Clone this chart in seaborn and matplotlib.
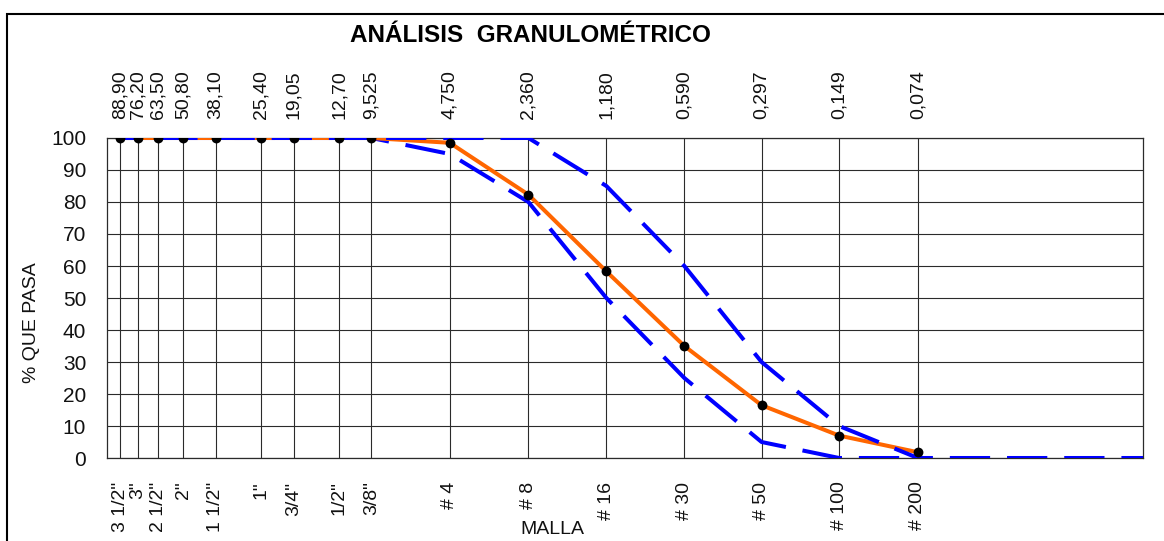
import matplotlib
matplotlib.use("Agg")
import matplotlib.pyplot as plt
from matplotlib.patches import Rectangle
from matplotlib.ticker import NullLocator, FixedLocator, FixedFormatter
import seaborn as sns
import pandas as pd

# ---- data ----
sieve_sizes = [88.90, 76.20, 63.50, 50.80, 38.10, 25.40, 19.05, 12.70, 9.525,
               4.750, 2.360, 1.180, 0.590, 0.297, 0.149, 0.074]
size_labels = ["88,90", "76,20", "63,50", "50,80", "38,10", "25,40", "19,05",
               "12,70", "9,525", "4,750", "2,360", "1,180", "0,590", "0,297",
               "0,149", "0,074"]
mesh_labels = ['3 1/2"', '3"', '2 1/2"', '2"', '1 1/2"', '1"', '3/4"', '1/2"',
               '3/8"', '# 4', '# 8', '# 16', '# 30', '# 50', '# 100', '# 200']
percent_passing = [100, 100, 100, 100, 100, 100, 100, 100, 100,
                   98.5, 82.3, 58.3, 35, 16.5, 7, 1.8]

upper_sizes = sieve_sizes + [0.01]
upper_limit = [100, 100, 100, 100, 100, 100, 100, 100, 100,
               100, 100, 85, 60, 30, 10, 0, 0]
lower_sizes = sieve_sizes
lower_limit = [100, 100, 100, 100, 100, 100, 100, 100, 100,
               95, 80, 50, 25, 5, 0, 0]
y_ticks = list(range(0, 101, 10))

W, H = 1164, 541
sns.set_theme(style="white")
plt.rcParams["font.family"] = ["Liberation Sans", "DejaVu Sans"]

fig = plt.figure(figsize=(W / 100, H / 100), dpi=100)
fig.patch.set_facecolor("white")
ax = fig.add_axes([107 / W, (H - 458) / H, (1143 - 107) / W, (458 - 138) / H])
ax.set_xscale("log")

grid_c = "#2b2b2b"
up_df = pd.DataFrame({"size": upper_sizes, "limit": upper_limit})
lo_df = pd.DataFrame({"size": lower_sizes, "limit": lower_limit})
cur_df = pd.DataFrame({"size": sieve_sizes, "pass": percent_passing})

sns.lineplot(data=lo_df, x="size", y="limit", ax=ax, color="#0000FF", lw=2.9,
             linestyle=(0, (10, 4.2)), sort=False, zorder=3)
sns.lineplot(data=cur_df, x="size", y="pass", ax=ax, color="#FF6600", lw=2.9,
             sort=False, zorder=4)
sns.lineplot(data=up_df, x="size", y="limit", ax=ax, color="#0000FF", lw=2.9,
             linestyle=(5, (10, 4.2)), sort=False, zorder=5)
sns.scatterplot(data=cur_df, x="size", y="pass", ax=ax, color="black", s=50,
                edgecolor="black", linewidth=0, zorder=6)

ax.set_xlim(100, 0.01)
ax.set_ylim(0, 100)
ax.xaxis.set_major_locator(FixedLocator(sieve_sizes))
ax.xaxis.set_major_formatter(FixedFormatter(mesh_labels))
ax.xaxis.set_minor_locator(NullLocator())
ax.set_yticks(y_ticks)
ax.set_xlabel("")
ax.set_ylabel("")
for lab in ax.get_xticklabels():
    lab.set_rotation(90)
    lab.set_va("top")
    lab.set_ha("center")
ax.tick_params(axis="x", length=0, pad=17, labelsize=14, colors="#111111")
ax.tick_params(axis="y", length=0, pad=15, labelsize=15, colors="#111111")
ax.grid(True, color=grid_c, lw=0.8)
ax.set_axisbelow(True)
for s in ax.spines.values():
    s.set_visible(True)
    s.set_color(grid_c)
    s.set_linewidth(0.9)

ax2 = ax.twiny()
ax2.set_xscale("log")
ax2.set_xlim(ax.get_xlim())
ax2.xaxis.set_major_locator(FixedLocator(sieve_sizes))
ax2.xaxis.set_major_formatter(FixedFormatter(size_labels))
ax2.xaxis.set_minor_locator(NullLocator())
for lab in ax2.get_xticklabels():
    lab.set_rotation(90)
    lab.set_va("bottom")
    lab.set_ha("center")
ax2.tick_params(axis="x", length=0, pad=14, labelsize=14, colors="#111111")
ax2.grid(False)
for s in ax2.spines.values():
    s.set_visible(False)

fig.text(530 / W, 1 - 35 / H, "ANÁLISIS  GRANULOMÉTRICO", ha="center", va="center",
         fontsize=17.5, fontweight="bold", color="black")
fig.text(31 / W, 1 - 323 / H, "% QUE PASA", rotation=90, ha="center", va="center",
         fontsize=14, color="#111111")
fig.text(552 / W, 1 - 529 / H, "MALLA", ha="center", va="center",
         fontsize=14, color="#111111")

fig.patches.append(Rectangle((7 / W, -0.2), 1.5, (H - 14) / H + 0.2,
                             transform=fig.transFigure, fill=False,
                             ec="black", lw=1.5))

fig.savefig("out.png", dpi=100, facecolor="white")
